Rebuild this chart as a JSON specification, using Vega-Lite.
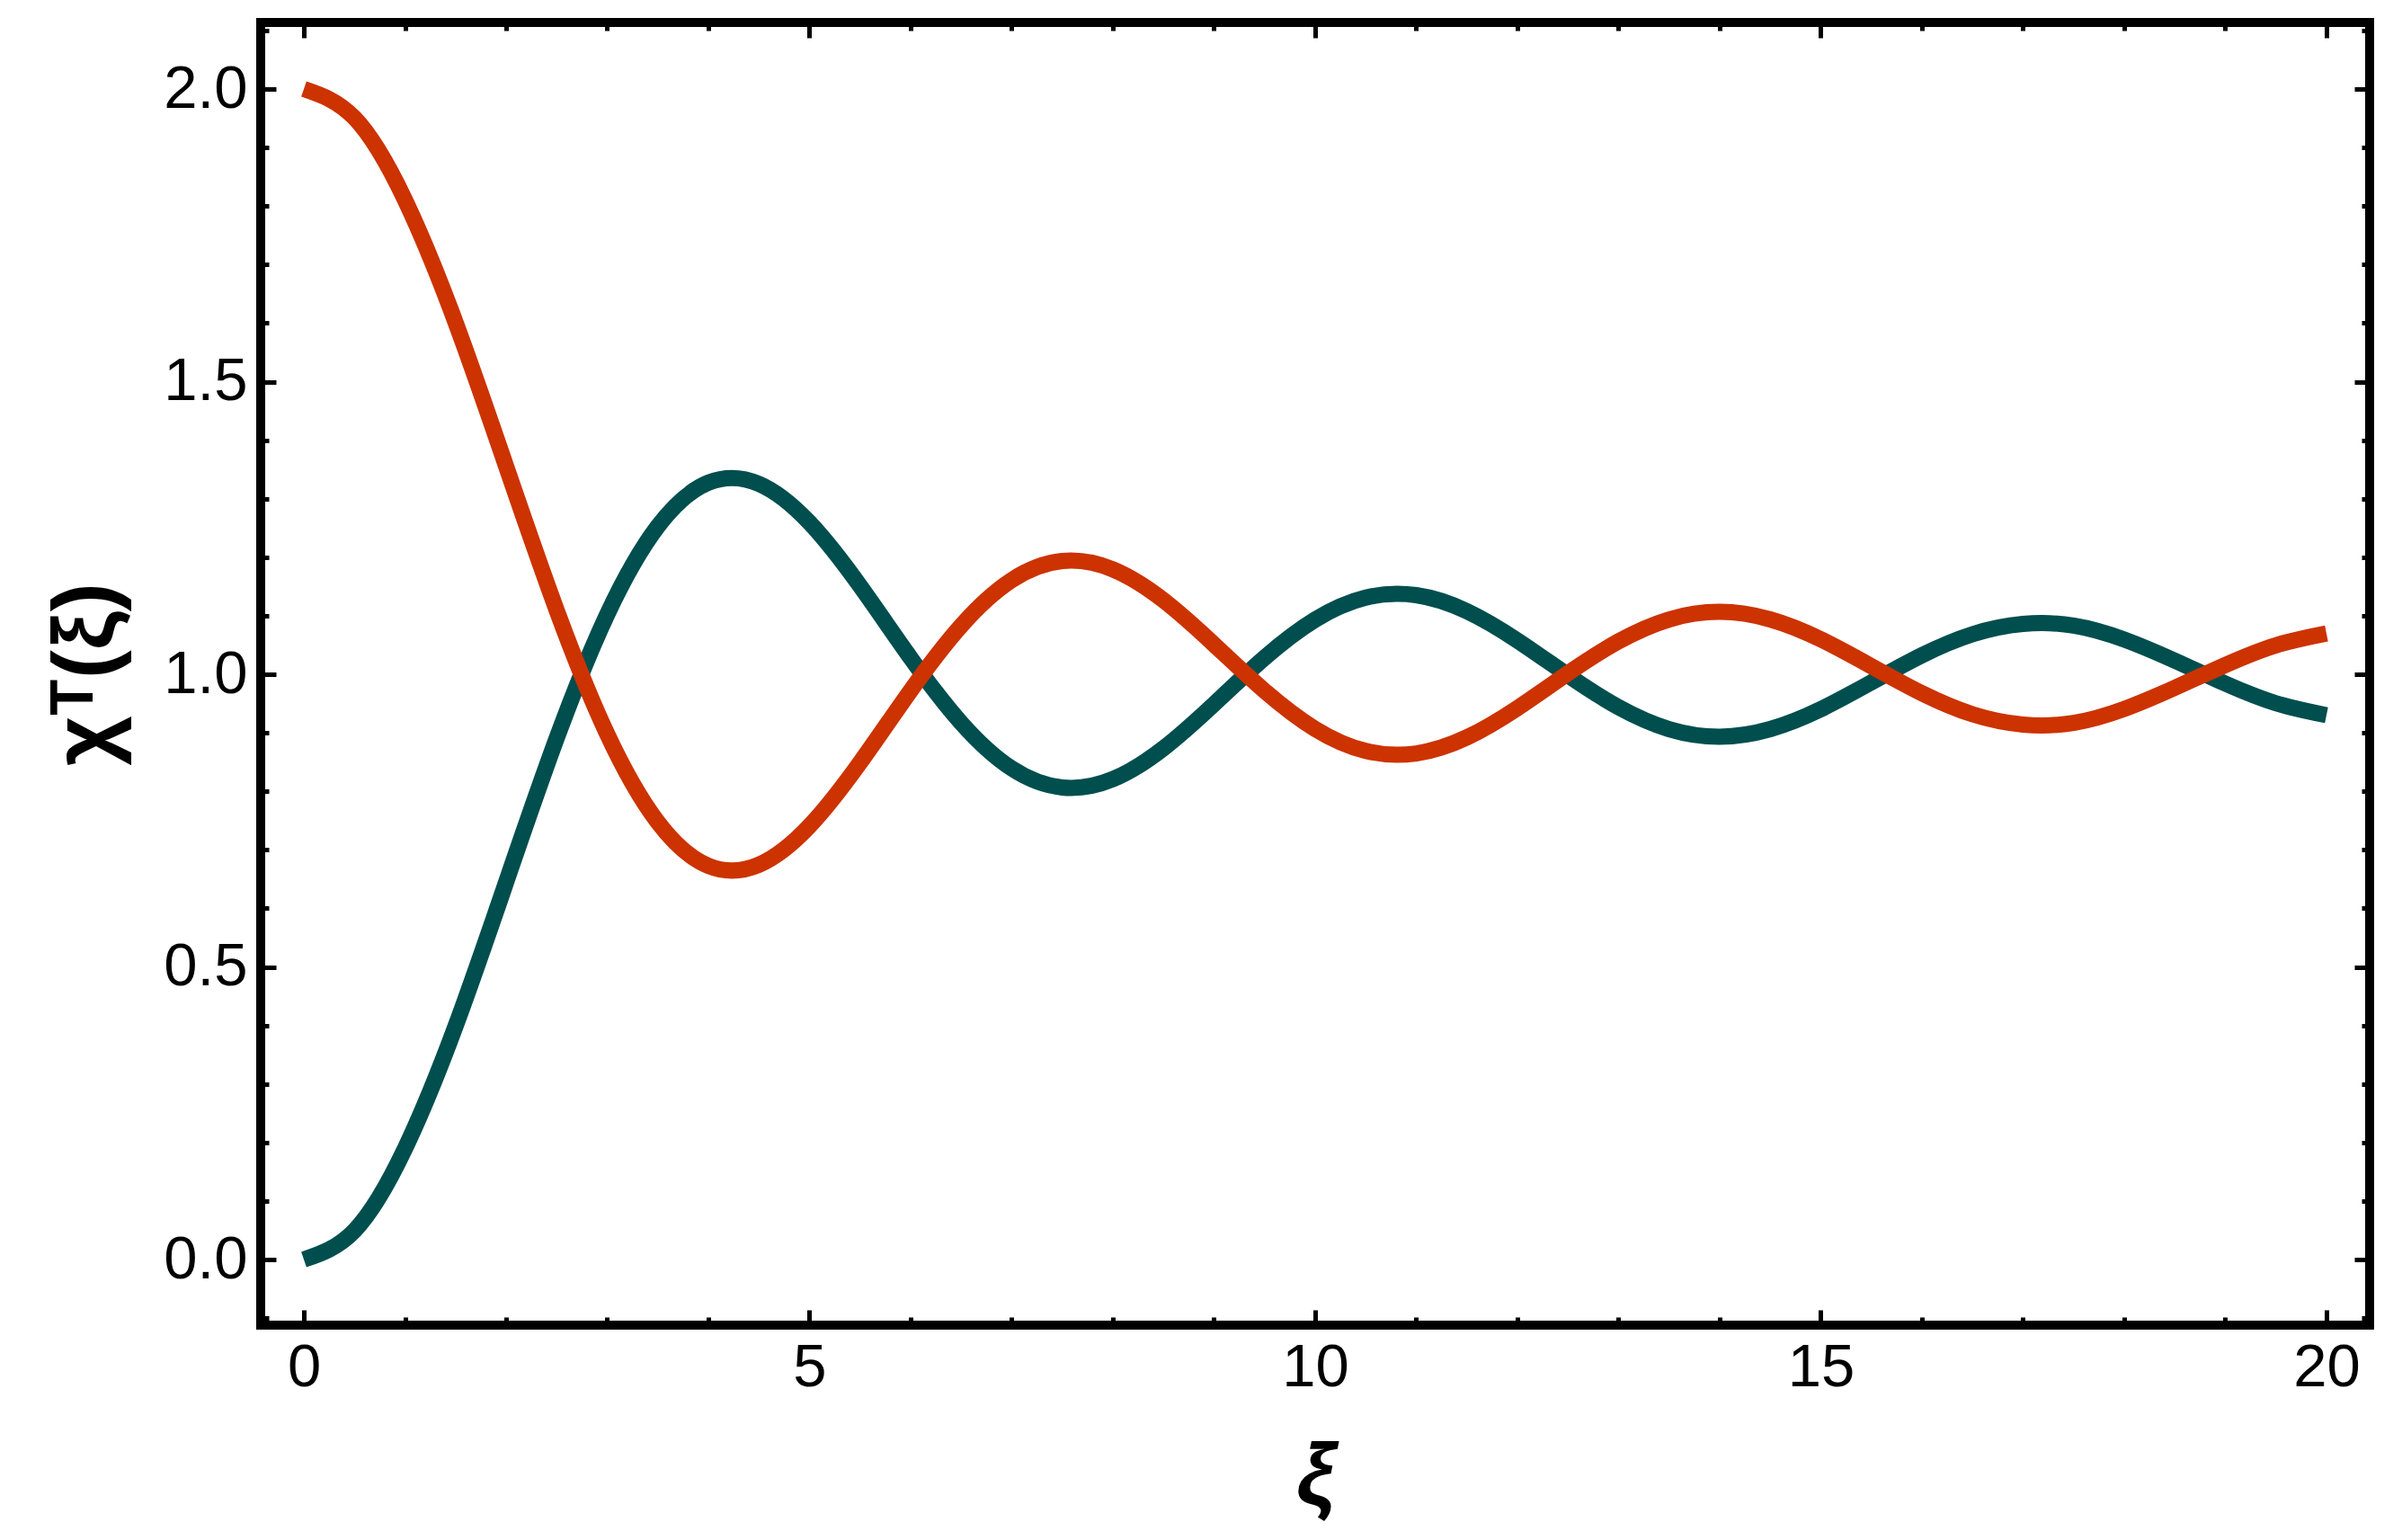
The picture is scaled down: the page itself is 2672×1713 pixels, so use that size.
{
  "$schema": "https://vega.github.io/schema/vega-lite/v6.json",
  "width": 2346,
  "height": 1449,
  "autosize": "none",
  "padding": {"left": 290, "top": 25, "right": 36, "bottom": 239},
  "background": "white",
  "config": {
    "view": {"stroke": "black", "strokeWidth": 10},
    "axis": {
      "domain": false,
      "grid": false,
      "tickColor": "black",
      "tickWidth": 5,
      "labelFont": "Liberation Sans",
      "labelFontSize": 67,
      "labelColor": "black",
      "labelFlush": false,
      "labelOverlap": false,
      "labelBound": false,
      "titleColor": "black",
      "titleFont": "Liberation Sans",
      "titleFontSize": 96,
      "titleFontWeight": "bold"
    }
  },
  "data": {
    "values": [
      {"xi": 0, "chi": 0, "curve": "a"},
      {"xi": 0.5, "chi": 0.0493, "curve": "a"},
      {"xi": 1, "chi": 0.1895, "curve": "a"},
      {"xi": 1.5, "chi": 0.3987, "curve": "a"},
      {"xi": 2, "chi": 0.6446, "curve": "a"},
      {"xi": 2.5, "chi": 0.8906, "curve": "a"},
      {"xi": 3, "chi": 1.1023, "curve": "a"},
      {"xi": 3.5, "chi": 1.2527, "curve": "a"},
      {"xi": 4, "chi": 1.3273, "curve": "a"},
      {"xi": 4.5, "chi": 1.3254, "curve": "a"},
      {"xi": 5, "chi": 1.2592, "curve": "a"},
      {"xi": 5.5, "chi": 1.1509, "curve": "a"},
      {"xi": 6, "chi": 1.0279, "curve": "a"},
      {"xi": 6.5, "chi": 0.9169, "curve": "a"},
      {"xi": 7, "chi": 0.839, "curve": "a"},
      {"xi": 7.5, "chi": 0.8065, "curve": "a"},
      {"xi": 8, "chi": 0.8208, "curve": "a"},
      {"xi": 8.5, "chi": 0.8735, "curve": "a"},
      {"xi": 9, "chi": 0.949, "curve": "a"},
      {"xi": 9.5, "chi": 1.0283, "curve": "a"},
      {"xi": 10, "chi": 1.0934, "curve": "a"},
      {"xi": 10.5, "chi": 1.131, "curve": "a"},
      {"xi": 11, "chi": 1.1352, "curve": "a"},
      {"xi": 11.5, "chi": 1.1079, "curve": "a"},
      {"xi": 12, "chi": 1.0578, "curve": "a"},
      {"xi": 12.5, "chi": 0.9983, "curve": "a"},
      {"xi": 13, "chi": 0.9438, "curve": "a"},
      {"xi": 13.5, "chi": 0.9063, "curve": "a"},
      {"xi": 14, "chi": 0.8934, "curve": "a"},
      {"xi": 14.5, "chi": 0.9063, "curve": "a"},
      {"xi": 15, "chi": 0.9403, "curve": "a"},
      {"xi": 15.5, "chi": 0.9862, "curve": "a"},
      {"xi": 16, "chi": 1.0325, "curve": "a"},
      {"xi": 16.5, "chi": 1.0684, "curve": "a"},
      {"xi": 17, "chi": 1.086, "curve": "a"},
      {"xi": 17.5, "chi": 1.0831, "curve": "a"},
      {"xi": 18, "chi": 1.0593, "curve": "a"},
      {"xi": 18.5, "chi": 1.0232, "curve": "a"},
      {"xi": 19, "chi": 0.9841, "curve": "a"},
      {"xi": 19.5, "chi": 0.9505, "curve": "a"},
      {"xi": 20, "chi": 0.9302, "curve": "a"},
      {"xi": 0, "chi": 2, "curve": "b"},
      {"xi": 0.5, "chi": 1.9507, "curve": "b"},
      {"xi": 1, "chi": 1.8105, "curve": "b"},
      {"xi": 1.5, "chi": 1.6013, "curve": "b"},
      {"xi": 2, "chi": 1.3554, "curve": "b"},
      {"xi": 2.5, "chi": 1.1094, "curve": "b"},
      {"xi": 3, "chi": 0.8977, "curve": "b"},
      {"xi": 3.5, "chi": 0.7473, "curve": "b"},
      {"xi": 4, "chi": 0.6727, "curve": "b"},
      {"xi": 4.5, "chi": 0.6746, "curve": "b"},
      {"xi": 5, "chi": 0.7408, "curve": "b"},
      {"xi": 5.5, "chi": 0.8491, "curve": "b"},
      {"xi": 6, "chi": 0.9721, "curve": "b"},
      {"xi": 6.5, "chi": 1.0831, "curve": "b"},
      {"xi": 7, "chi": 1.161, "curve": "b"},
      {"xi": 7.5, "chi": 1.1935, "curve": "b"},
      {"xi": 8, "chi": 1.1792, "curve": "b"},
      {"xi": 8.5, "chi": 1.1265, "curve": "b"},
      {"xi": 9, "chi": 1.051, "curve": "b"},
      {"xi": 9.5, "chi": 0.9717, "curve": "b"},
      {"xi": 10, "chi": 0.9066, "curve": "b"},
      {"xi": 10.5, "chi": 0.869, "curve": "b"},
      {"xi": 11, "chi": 0.8648, "curve": "b"},
      {"xi": 11.5, "chi": 0.8921, "curve": "b"},
      {"xi": 12, "chi": 0.9422, "curve": "b"},
      {"xi": 12.5, "chi": 1.0017, "curve": "b"},
      {"xi": 13, "chi": 1.0562, "curve": "b"},
      {"xi": 13.5, "chi": 1.0937, "curve": "b"},
      {"xi": 14, "chi": 1.1066, "curve": "b"},
      {"xi": 14.5, "chi": 1.0937, "curve": "b"},
      {"xi": 15, "chi": 1.0597, "curve": "b"},
      {"xi": 15.5, "chi": 1.0138, "curve": "b"},
      {"xi": 16, "chi": 0.9675, "curve": "b"},
      {"xi": 16.5, "chi": 0.9316, "curve": "b"},
      {"xi": 17, "chi": 0.914, "curve": "b"},
      {"xi": 17.5, "chi": 0.9169, "curve": "b"},
      {"xi": 18, "chi": 0.9407, "curve": "b"},
      {"xi": 18.5, "chi": 0.9768, "curve": "b"},
      {"xi": 19, "chi": 1.0159, "curve": "b"},
      {"xi": 19.5, "chi": 1.0495, "curve": "b"},
      {"xi": 20, "chi": 1.0698, "curve": "b"}
    ]
  },
  "layer": [
    {
      "transform": [{"filter": "datum.curve === 'a'"}],
      "mark": {"type": "line", "color": "#014E4E", "strokeWidth": 18, "strokeCap": "butt", "interpolate": "natural"},
      "encoding": {
        "x": {
          "field": "xi", "type": "quantitative",
          "scale": {"domain": [-0.4267, 20.427], "nice": false, "zero": false},
          "axis": {
            "orient": "bottom",
            "values": [0,1,2,3,4,5,6,7,8,9,10,11,12,13,14,15,16,17,18,19,20],
            "tickSize": {"condition": {"test": "datum.value % 5 === 0", "value": -17}, "value": -9},
            "labelExpr": "datum.value % 5 === 0 ? datum.label : ''",
            "labelPadding": 31,
            "title": "ξ",
            "titleFontStyle": "italic",
            "titleBaseline": "alphabetic",
            "titleY": 198
          }
        },
        "y": {
          "field": "chi", "type": "quantitative",
          "scale": {"domain": [-0.1121, 2.1137], "nice": false, "zero": false},
          "axis": {
            "orient": "left",
            "values": [-0.1,0,0.1,0.2,0.3,0.4,0.5,0.6,0.7,0.8,0.9,1,1.1,1.2,1.3,1.4,1.5,1.6,1.7,1.8,1.9,2,2.1],
            "format": ".1f",
            "tickSize": {"condition": {"test": "abs(datum.value*2 - round(datum.value*2)) < 0.001", "value": -17}, "value": -9},
            "labelExpr": "abs(datum.value*2 - round(datum.value*2)) < 0.001 ? datum.label : ''",
            "labelPadding": 32,
            "title": "χᵀ(ξ)",
            "titleBaseline": "alphabetic",
            "titleX": -165
          }
        }
      }
    },
    {
      "transform": [{"filter": "datum.curve === 'b'"}],
      "mark": {"type": "line", "color": "#CC3300", "strokeWidth": 18, "strokeCap": "butt", "interpolate": "natural"},
      "encoding": {
        "x": {
          "field": "xi", "type": "quantitative",
          "scale": {"domain": [-0.4267, 20.427], "nice": false, "zero": false},
          "axis": {
            "orient": "top",
            "values": [0,1,2,3,4,5,6,7,8,9,10,11,12,13,14,15,16,17,18,19,20],
            "tickSize": {"condition": {"test": "datum.value % 5 === 0", "value": -17}, "value": -9},
            "labels": false,
            "title": null
          }
        },
        "y": {
          "field": "chi", "type": "quantitative",
          "scale": {"domain": [-0.1121, 2.1137], "nice": false, "zero": false},
          "axis": {
            "orient": "right",
            "values": [-0.1,0,0.1,0.2,0.3,0.4,0.5,0.6,0.7,0.8,0.9,1,1.1,1.2,1.3,1.4,1.5,1.6,1.7,1.8,1.9,2,2.1],
            "tickSize": {"condition": {"test": "abs(datum.value*2 - round(datum.value*2)) < 0.001", "value": -17}, "value": -9},
            "labels": false,
            "title": null
          }
        }
      }
    }
  ],
  "resolve": {"axis": {"x": "independent", "y": "independent"}}
}
